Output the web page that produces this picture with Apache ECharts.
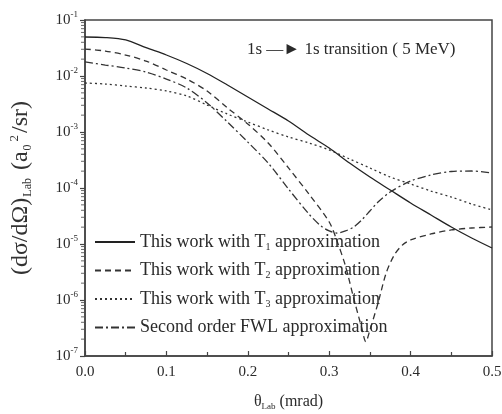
<!DOCTYPE html>
<html><head><meta charset="utf-8">
<script src="https://cdn.jsdelivr.net/npm/echarts@6/dist/echarts.min.js"></script>
<style>html,body{margin:0;padding:0;background:#fff}#c{width:502px;height:414px}</style>
</head><body><div id="c"></div>
<script>
// ---- data ----
const thetaT1 = [0,0.025,0.05,0.075,0.1,0.125,0.15,0.175,0.2,0.225,0.25,0.275,0.3,0.325,0.35,0.375,0.4,0.425,0.45,0.475,0.5];
const valT1 = [4.97e-2,4.86e-2,4.40e-2,3.2e-2,2.37e-2,1.67e-2,1.11e-2,6.9e-3,4.22e-3,2.58e-3,1.57e-3,8.83e-4,5.18e-4,2.79e-4,1.57e-4,9.2e-5,5.4e-5,3.3e-5,2.01e-5,1.28e-5,8.49e-6];

const thetaT2 = [0,0.025,0.05,0.075,0.1,0.125,0.15,0.175,0.2,0.225,0.25,0.275,0.3,0.31,0.32,0.33,0.34,0.345,0.35,0.36,0.37,0.38,0.39,0.4,0.425,0.45,0.475,0.5];
const valT2 = [3.03e-2,2.79e-2,2.37e-2,1.85e-2,1.28e-2,8.83e-3,5.40e-3,2.69e-3,1.39e-3,6.37e-4,2.28e-4,7.82e-5,2.47e-5,1.09e-5,4.05e-6,1.09e-6,3.16e-7,1.8e-7,2.91e-7,8.83e-7,3.03e-6,6.37e-6,9.6e-6,1.18e-5,1.51e-5,1.78e-5,1.93e-5,2.01e-5];

const thetaT3 = [0,0.025,0.05,0.075,0.1,0.125,0.15,0.175,0.2,0.225,0.25,0.275,0.3,0.325,0.35,0.375,0.4,0.425,0.45,0.475,0.5];
const valT3 = [7.50e-3,7.19e-3,6.62e-3,6.11e-3,5.40e-3,4.40e-3,3.03e-3,2.09e-3,1.51e-3,1.09e-3,8.15e-4,6.37e-4,4.78e-4,3.30e-4,2.28e-4,1.57e-4,1.18e-4,8.83e-5,6.90e-5,5.18e-5,4.05e-5];

const thetaFWL = [0,0.025,0.05,0.075,0.1,0.125,0.15,0.175,0.2,0.225,0.25,0.275,0.29,0.3,0.31,0.32,0.33,0.34,0.35,0.36,0.375,0.4,0.425,0.45,0.475,0.5];
const valFWL = [1.78e-2,1.57e-2,1.39e-2,1.18e-2,8.83e-3,6.11e-3,3.30e-3,1.51e-3,6.6e-4,2.79e-4,9.6e-5,3.44e-5,2.09e-5,1.71e-5,1.57e-5,1.71e-5,2.01e-5,2.69e-5,3.88e-5,5.62e-5,8.49e-5,1.33e-4,1.71e-4,1.97e-4,2.01e-4,1.85e-4];

const seriesNames = ['T1','T2','T3','FWL'];
const legendLabels = {
  T1: '{a|This work with T}{s|1}{a| approximation}',
  T2: '{a|This work with T}{s|2}{a| approximation}',
  T3: '{a|This work with T}{s|3}{a| approximation}',
  FWL: '{a|Second order FWL approximation}'
};
const yMinorTicks = [];
for (let n = -7; n <= -2; n++) for (let k = 2; k <= 9; k++) yMinorTicks.push([0, k * Math.pow(10, n)]);

const serif = 'Liberation Serif';
const ink = '#2a2a2a';
const zip = (xs, ys) => xs.map((x, i) => [x, ys[i]]);

const chart = echarts.init(document.getElementById('c'), null, {renderer: 'canvas'});
chart.setOption({
  animation: false,
  backgroundColor: '#fff',
  grid: {left: 85, right: 10, top: 20, bottom: 58, show: true, borderColor: '#444', borderWidth: 1.5,
         containLabel: false, outerBoundsMode: 'none'},
  xAxis: {
    type: 'value', min: 0, max: 0.5, interval: 0.1,
    axisLine: {show: true, lineStyle: {color: '#444', width: 1.5}},
    axisTick: {show: true, inside: true, length: 5, lineStyle: {color: '#444', width: 1.2}},
    minorTick: {show: true, splitNumber: 2, length: 4, lineStyle: {color: '#444', width: 1.2}},
    splitLine: {show: false},
    axisLabel: {formatter: v => v.toFixed(1), fontFamily: serif, fontSize: 15, color: ink, margin: 9},
    name: '{t|θ}{s|Lab}{t| (mrad)}', nameLocation: 'middle', nameGap: 36,
    nameTextStyle: {rich: {
      t: {fontFamily: serif, fontSize: 16, color: ink},
      s: {fontFamily: serif, fontSize: 9, color: ink, padding: [10, 0, 0, 0]}
    }}
  },
  yAxis: {
    type: 'log', logBase: 10, min: 1e-7, max: 1e-1,
    axisLine: {show: true, lineStyle: {color: '#444', width: 1.5}},
    axisTick: {show: true, inside: false, length: 5, lineStyle: {color: '#444', width: 1.2}},
    splitLine: {show: false},
    axisLabel: {
      formatter: v => '{b|10}{e|' + Math.round(Math.log10(v)) + '}',
      margin: 7,
      rich: {
        b: {fontFamily: serif, fontSize: 15, color: ink},
        e: {fontFamily: serif, fontSize: 9, color: ink, padding: [0, 0, 10, 0]}
      }
    },
    name: '(dσ/dΩ){s|Lab} (a{s|0}{p|2}/sr)', nameLocation: 'middle', nameGap: 51, nameRotate: 90,
    nameTextStyle: {fontFamily: serif, fontSize: 24, color: '#333', rich: {
      s: {fontFamily: serif, fontSize: 12, color: '#333', padding: [14, 2, 0, 1]},
      p: {fontFamily: serif, fontSize: 13, color: '#333', padding: [0, 2, 13, 1]}
    }}
  },
  legend: {
    data: seriesNames, orient: 'vertical', left: 94, top: 233, padding: 0,
    itemWidth: 40, itemHeight: 14, itemGap: 9.5,
    itemStyle: {opacity: 0},
    formatter: n => legendLabels[n],
    textStyle: {lineHeight: 18, rich: {
      a: {fontFamily: serif, fontSize: 18, color: ink, lineHeight: 18},
      s: {fontFamily: serif, fontSize: 10, color: ink, padding: [10, 0, 0, 0]}
    }},
    selectedMode: false
  },
  graphic: [{
    type: 'text', left: 247, top: 41,
    style: {text: '1s —► 1s transition ( 5 MeV)', font: '17px "Liberation Serif"', fill: ink}
  }],
  series: [
    {name: 'T1', type: 'line', data: zip(thetaT1, valT1), symbol: 'none', smooth: 0.3,
     lineStyle: {color: '#222', width: 1.3, type: 'solid'}, itemStyle: {color: '#222'}},
    {name: 'T2', type: 'line', data: zip(thetaT2, valT2), symbol: 'none', smooth: 0.3,
     lineStyle: {color: '#333', width: 1.3, type: [6, 4]}, itemStyle: {color: '#333'}},
    {name: 'T3', type: 'line', data: zip(thetaT3, valT3), symbol: 'none', smooth: 0.3,
     lineStyle: {color: '#333', width: 1.3, type: [2, 3]}, itemStyle: {color: '#333'}},
    {name: 'FWL', type: 'line', data: zip(thetaFWL, valFWL), symbol: 'none', smooth: 0.3,
     lineStyle: {color: '#333', width: 1.3, type: [8, 3, 2, 3]}, itemStyle: {color: '#333'}},
    {name: 'yminor', type: 'scatter', data: yMinorTicks, symbol: 'rect', symbolSize: [3, 1],
     symbolOffset: [-2.5, 0], clip: false, silent: true, itemStyle: {color: '#444'}, z: 5}
  ]
});
</script></body></html>
